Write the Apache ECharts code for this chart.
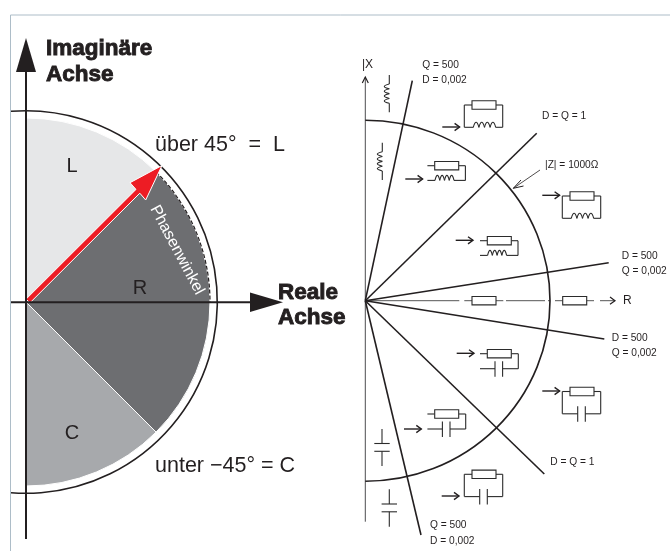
<!DOCTYPE html>
<html>
<head>
<meta charset="utf-8">
<style>
  html, body { margin: 0; padding: 0; background: #fff; }
  #main { width: 670px; height: 551px; }
</style>
<script src="https://cdn.jsdelivr.net/npm/echarts@6/dist/echarts.min.js"></script>
</head>
<body>
<div id="main"></div>
<script>
  // left diagram: phase bands in degrees
  const phaseBands = [[90, 45], [45, -45], [-45, -90]]
  const phaseOrigin = [26, 302]
  const fillRadius = 184
  const outerRadius = 191.3
  const outerArc = [94.5, -94.5]
  const dashedArc = [45, 0]
  const redArrow = [[26.1, 299.1], [136, 189.4], [130, 182.7], [162, 165.5], [145.7, 200], [139.8, 193.2], [29.9, 302.9]]
  const axisLines = [[26, 70, 26, 539], [11, 302.3, 252, 302.3]]
  const axisHeads = [[[26, 38], [16, 72], [36, 72]], [[283, 302.3], [250, 292.5], [250, 312]]]
  const frameLines = [[10.5, 15, 670, 15], [10.5, 15, 10.5, 551]]

  // right diagram
  const zOrigin = [365.3, 300.7]
  const zRadiusX = 184.7
  const zRadiusY = 180.5
  const rayEnds = [[412.3, 80.7], [536.7, 133.3], [608.7, 262.7], [604.3, 339], [544.3, 474], [421, 535]]
  const realLine = [[365.3, 459.3], [464.3, 472], [496, 503.3], [506, 545], [548, 550], [555, 562.7], [586.7, 594], [600, 615]]
  const resistorsOnLine = [484, 574.7]
  const flowArrows = [[442.3, 127], [405.3, 179], [455.7, 240.3], [542.3, 195.3], [456.7, 353.3], [542.3, 391], [404, 429], [441.7, 496]]
  const parallelRL = [[484, 105], [582, 196]]
  const seriesRL = [[446.7, 165.7], [499.3, 240.7]]
  const seriesRC = [[499.3, 353.7], [446.7, 414]]
  const parallelRC = [[582, 391.5], [484, 474.3]]
  const coils = [[389.3, 75, 112.3], [382.3, 142.7, 180]]
  const caps = [[382, 429, 466], [389.3, 489.3, 526.7]]

  // text, x, y
  const heavyLabels = [['Imaginäre', 46, 48.5], ['Achse', 46, 75], ['Reale', 278, 292.5], ['Achse', 278, 318]]
  const mainLabels = [['über 45°  =  L', 155, 145], ['unter −45° = C', 155, 466]]
  const bandLabels = [['L', 72, 166], ['R', 140, 288], ['C', 72, 433]]
  const axisLabels = [['|X', 362, 64.5], ['R', 623, 301]]
  const smallLabels = [
    ['Q = 500', 422.3, 65], ['D = 0,002', 422.3, 80],
    ['D = Q = 1', 542, 116.3], ['|Z| = 1000Ω', 545, 165],
    ['D = 500', 621.7, 256.3], ['Q = 0,002', 621.7, 271],
    ['D = 500', 611.7, 337.7], ['Q = 0,002', 611.7, 352.7],
    ['D = Q = 1', 550.3, 462], ['Q = 500', 430, 525.3], ['D = 0,002', 430, 540.7]
  ]

  const INK = '#231f20'
  const WIRE = '#2b2b2b'
  const bandColors = ['#e6e7e8', '#6d6e71', '#a7a9ac']
  const rad = deg => -deg * Math.PI / 180

  const line = (x1, y1, x2, y2, color, width) => ({
    type: 'line',
    shape: { x1, y1, x2, y2 },
    style: { stroke: color || WIRE, lineWidth: width || 1.1 }
  })

  const chevron = (x, y, color, width) => ({
    type: 'polyline',
    shape: { points: [[x - 5, y - 3.6], [x, y], [x - 5, y + 3.6]] },
    style: { stroke: color || INK, lineWidth: width || 1.3, fill: null }
  })

  const resistor = (x, y) => ({
    type: 'rect',
    shape: { x: x - 12, y: y - 4.2, width: 24, height: 8.4 },
    style: { stroke: WIRE, lineWidth: 1.1, fill: '#fff' }
  })

  /** 水平线圈 */
  const coilH = (x0, x1, y) => {
    const step = (x1 - x0) / 4
    return [0, 1, 2, 3].map(i => ({
      type: 'bezierCurve',
      shape: { x1: x0 + step * i, y1: y, x2: x0 + step * (i + 1), y2: y, cpx1: x0 + step * (i + 0.5), cpy1: y - 10 },
      style: { stroke: WIRE, lineWidth: 1.1, fill: null }
    }))
  }

  /** 垂直线圈 */
  const coilV = (x, y0, y1) => {
    const step = (y1 - y0) / 4
    return [0, 1, 2, 3].map(i => ({
      type: 'bezierCurve',
      shape: { x1: x, y1: y0 + step * i, x2: x, y2: y0 + step * (i + 1), cpx1: x - 10, cpy1: y0 + step * (i + 0.5) },
      style: { stroke: WIRE, lineWidth: 1.1, fill: null }
    }))
  }

  const plates = (x, y) => [line(x - 4.3, y - 7.5, x - 4.3, y + 8), line(x + 3.3, y - 7.5, x + 3.3, y + 8)]

  const circuits = {
    parallelRL: (x, y) => [
      line(x - 12, y, x - 19.7, y), line(x - 19.7, y, x - 19.7, y + 22.3), line(x - 19.7, y + 22.3, x - 10.7, y + 22.3),
      ...coilH(x - 10.7, x + 11.7, y + 22.3),
      line(x + 11.7, y + 22.3, x + 18.7, y + 22.3), line(x + 18.7, y + 22.3, x + 18.7, y), line(x + 18.7, y, x + 12, y),
      resistor(x, y)
    ],
    seriesRL: (x, y) => [
      line(x - 19.3, y, x - 12, y), line(x + 12, y, x + 18.7, y), line(x + 18.7, y, x + 18.7, y + 14.7),
      line(x + 18.7, y + 14.7, x + 7.3, y + 14.7),
      ...coilH(x - 11.7, x + 7.3, y + 14.7),
      line(x - 11.7, y + 14.7, x - 19.3, y + 14.7),
      resistor(x, y)
    ],
    seriesRC: (x, y) => [
      line(x - 19.3, y, x - 12, y), line(x + 12, y, x + 19, y), line(x + 19, y, x + 19, y + 15),
      line(x + 19, y + 15, x + 3.3, y + 15), line(x - 4.3, y + 15, x - 19.3, y + 15),
      ...plates(x, y + 15),
      resistor(x, y)
    ],
    parallelRC: (x, y) => [
      line(x - 12, y, x - 19.7, y), line(x - 19.7, y, x - 19.7, y + 22.3), line(x - 19.7, y + 22.3, x - 4.3, y + 22.3),
      line(x + 3.3, y + 22.3, x + 18.7, y + 22.3), line(x + 18.7, y + 22.3, x + 18.7, y), line(x + 18.7, y, x + 12, y),
      ...plates(x, y + 22.3),
      resistor(x, y)
    ]
  }

  const textItem = (item, api, font, color, extra) => {
    const p = api.coord([item[1], item[2]])
    return {
      type: 'text',
      x: p[0],
      y: p[1],
      style: Object.assign({ text: item[0], font, fill: color, textAlign: 'left', textVerticalAlign: 'middle' }, extra)
    }
  }

  const custom = (data, renderItem, z) => ({
    type: 'custom',
    coordinateSystem: 'cartesian2d',
    data,
    renderItem,
    clip: false,
    silent: true,
    z: z || 2
  })

  const pt = (item, api) => api.coord([item[0], item[1]])

  const chart = echarts.init(document.getElementById('main'), null, { renderer: 'canvas' })
  chart.setOption({
    animation: false,
    backgroundColor: '#fff',
    tooltip: { show: false },
    grid: { left: 0, right: 0, top: 0, bottom: 0 },
    xAxis: { type: 'value', min: 0, max: 670, show: false },
    yAxis: { type: 'value', min: 0, max: 551, inverse: true, show: false },
    series: [
      custom(frameLines, (params, api) => {
        const d = frameLines[params.dataIndex]
        return line(d[0], d[1], d[2], d[3], '#adbdc8', 1)
      }, 1),
      // phase bands
      custom(phaseBands, (params, api) => {
        const d = phaseBands[params.dataIndex]
        const c = pt(phaseOrigin, api)
        return {
          type: 'sector',
          shape: { cx: c[0], cy: c[1], r: fillRadius, r0: 0, startAngle: rad(d[0]), endAngle: rad(d[1]), clockwise: true },
          style: { fill: bandColors[params.dataIndex], stroke: '#fff', lineWidth: 1 }
        }
      }),
      custom([dashedArc], (params, api) => {
        const c = pt(phaseOrigin, api)
        return {
          type: 'arc',
          shape: { cx: c[0], cy: c[1], r: fillRadius, startAngle: rad(dashedArc[0]), endAngle: rad(dashedArc[1]), clockwise: true },
          style: { stroke: INK, lineWidth: 1.2, lineDash: [4, 2], fill: null }
        }
      }, 3),
      custom([outerArc], (params, api) => {
        const c = pt(phaseOrigin, api)
        return {
          type: 'arc',
          shape: { cx: c[0], cy: c[1], r: outerRadius, startAngle: rad(outerArc[0]), endAngle: rad(outerArc[1]), clockwise: true },
          style: { stroke: INK, lineWidth: 1.6, fill: null }
        }
      }, 3),
      custom([redArrow], (params, api) => ({
        type: 'polygon',
        shape: { points: redArrow.map(p => pt(p, api)) },
        style: { fill: '#ed1c24', stroke: '#fff', lineWidth: 1 }
      }), 4),
      custom(axisLines, (params, api) => {
        const d = axisLines[params.dataIndex]
        return line(d[0], d[1], d[2], d[3], INK, 2)
      }, 5),
      custom(axisHeads, (params, api) => ({
        type: 'polygon',
        shape: { points: axisHeads[params.dataIndex].map(p => pt(p, api)) },
        style: { fill: INK }
      }), 5),
      // right diagram
      custom([[zOrigin[0], 76.7, zOrigin[0], 521.7]], (params, api) => ({
        type: 'group',
        children: [
          line(zOrigin[0], 77, zOrigin[0], 521.7, '#4d4d4f', 1),
          {
            type: 'polyline',
            shape: { points: [[zOrigin[0] - 3, 83], [zOrigin[0], 77], [zOrigin[0] + 3, 83]] },
            style: { stroke: INK, lineWidth: 1.2, fill: null }
          }
        ]
      })),
      custom(realLine, (params, api) => {
        const d = realLine[params.dataIndex]
        return line(d[0], zOrigin[1], d[1], zOrigin[1], '#555', 1)
      }),
      custom(resistorsOnLine, (params, api) => resistor(resistorsOnLine[params.dataIndex], zOrigin[1])),
      custom([615], () => chevron(615, zOrigin[1], INK, 1.2)),
      custom(rayEnds, (params, api) => {
        const d = rayEnds[params.dataIndex]
        return line(zOrigin[0], zOrigin[1], d[0], d[1], INK, 1.6)
      }, 3),
      custom([zRadiusX], (params, api) => ({
        type: 'arc',
        originX: zOrigin[0],
        originY: zOrigin[1],
        scaleX: zRadiusX / zRadiusY,
        shape: { cx: zOrigin[0], cy: zOrigin[1], r: zRadiusY, startAngle: -Math.PI / 2, endAngle: Math.PI / 2, clockwise: true },
        style: { stroke: INK, lineWidth: 1.6, fill: null }
      }), 3),
      custom(flowArrows, (params, api) => {
        const d = flowArrows[params.dataIndex]
        return {
          type: 'group',
          children: [line(d[0], d[1], d[0] + 17.3, d[1], INK, 1.4), chevron(d[0] + 17.3, d[1], INK, 1.4)]
        }
      }),
      custom(parallelRL, (params, api) => ({ type: 'group', children: circuits.parallelRL(...parallelRL[params.dataIndex]) })),
      custom(seriesRL, (params, api) => ({ type: 'group', children: circuits.seriesRL(...seriesRL[params.dataIndex]) })),
      custom(seriesRC, (params, api) => ({ type: 'group', children: circuits.seriesRC(...seriesRC[params.dataIndex]) })),
      custom(parallelRC, (params, api) => ({ type: 'group', children: circuits.parallelRC(...parallelRC[params.dataIndex]) })),
      custom(coils, (params, api) => {
        const d = coils[params.dataIndex]
        return {
          type: 'group',
          children: [line(d[0], d[1], d[0], d[1] + 9), ...coilV(d[0], d[1] + 9, d[2] - 9), line(d[0], d[2] - 9, d[0], d[2])]
        }
      }),
      custom(caps, (params, api) => {
        const d = caps[params.dataIndex]
        const mid = (d[1] + d[2]) / 2
        return {
          type: 'group',
          children: [
            line(d[0], d[1], d[0], mid - 4), line(d[0] - 7.7, mid - 4, d[0] + 7.7, mid - 4),
            line(d[0] - 7.7, mid + 3.8, d[0] + 7.7, mid + 3.8), line(d[0], mid + 3.8, d[0], d[2])
          ]
        }
      }),
      // |Z| pointer
      custom([[540, 170, 513.3, 188.3]], () => ({
        type: 'group',
        children: [
          line(540, 170, 513.3, 188.3, INK, 0.8),
          {
            type: 'polyline',
            shape: { points: [[521, 180], [513.3, 188.3], [523.5, 186]] },
            style: { stroke: INK, lineWidth: 1, fill: null }
          }
        ]
      })),
      // labels
      custom(heavyLabels, (params, api) => textItem(heavyLabels[params.dataIndex], api, 'bold 22.5px "Liberation Sans"', INK, { stroke: INK, lineWidth: 0.9 }), 6),
      custom(mainLabels, (params, api) => textItem(mainLabels[params.dataIndex], api, '21.5px "Liberation Sans"', INK), 6),
      custom(bandLabels, (params, api) => textItem(bandLabels[params.dataIndex], api, '20px "Liberation Sans"', INK, { textAlign: 'center' }), 6),
      custom(axisLabels, (params, api) => textItem(axisLabels[params.dataIndex], api, '12px "Liberation Sans"', INK), 6),
      custom(smallLabels, (params, api) => textItem(smallLabels[params.dataIndex], api, '10.2px "Liberation Sans"', INK), 6),
      custom(['Phasenwinkel'], (params, api) => {
        const p = api.coord([177, 250])
        return {
          type: 'text',
          x: p[0],
          y: p[1],
          rotation: -Math.PI * 62 / 180,
          style: { text: 'Phasenwinkel', font: '16px "Liberation Sans"', fill: '#fff', textAlign: 'center', textVerticalAlign: 'middle' }
        }
      }, 6)
    ]
  })
</script>
</body>
</html>
